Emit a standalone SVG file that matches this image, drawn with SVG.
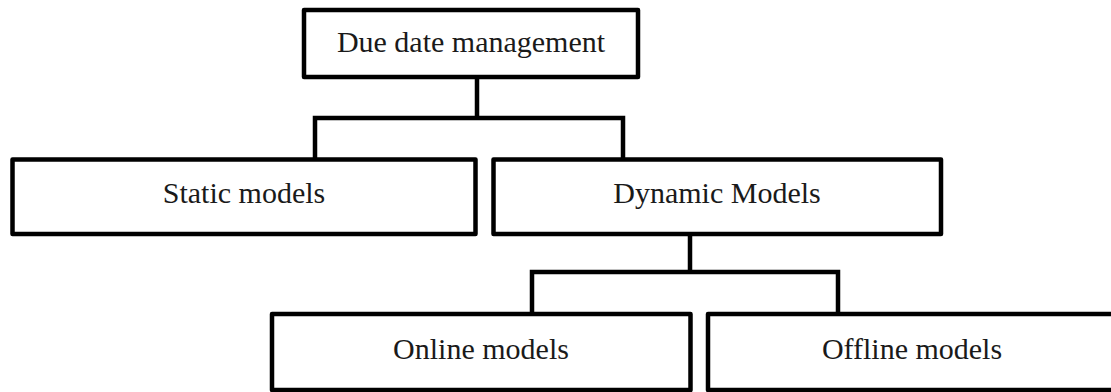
<svg xmlns="http://www.w3.org/2000/svg" width="1111" height="392" viewBox="0 0 1111 392">
<style>
.box{fill:#fff;stroke:#000;stroke-width:4.5;stroke-linejoin:round}
.conn{fill:none;stroke:#000;stroke-width:4.5;stroke-linejoin:miter}
.lbl{font-family:"Liberation Serif","Times New Roman",serif;font-size:30px;fill:#1a1a1a;text-anchor:middle}
</style>
<rect width="1111" height="392" fill="#fff"/>
<g id="connectors">
<path class="conn" d="M477,77 V118 M315,160 V118 H623 V160"/>
<path class="conn" d="M690,234 V272 M532,314 V272 H838 V314"/>
</g>
<g id="due-date-management">
<rect class="box" x="304" y="10" width="334" height="67"/>
<text class="lbl" x="471" y="52">Due date management</text>
</g>
<g id="static-models">
<rect class="box" x="12.5" y="159.5" width="463" height="74.5"/>
<text class="lbl" x="244" y="203">Static models</text>
</g>
<g id="dynamic-models">
<rect class="box" x="493.5" y="159.5" width="447.5" height="74.5"/>
<text class="lbl" x="717" y="203">Dynamic Models</text>
</g>
<g id="online-models">
<rect class="box" x="272" y="314" width="418.5" height="76"/>
<text class="lbl" x="481" y="359">Online models</text>
</g>
<g id="offline-models">
<rect class="box" x="708" y="314" width="408" height="76"/>
<text class="lbl" x="912" y="359">Offline models</text>
</g>
</svg>
